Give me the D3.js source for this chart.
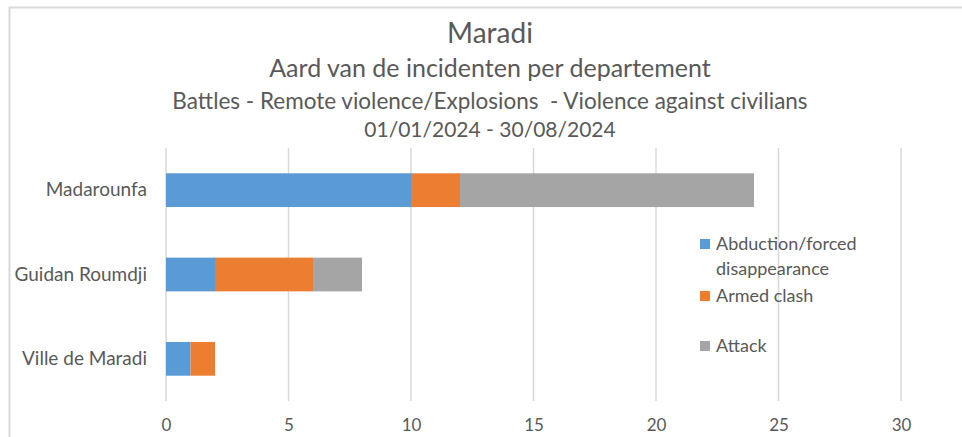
<!DOCTYPE html>
<html><head><meta charset="utf-8">
<script src="https://cdn.jsdelivr.net/npm/d3@7"></script>
<style>body{margin:0;background:#fff}svg{display:block}</style>
</head><body><svg id="c" width="962" height="437"></svg>
<script>
const categories = ["Madarounfa", "Guidan Roumdji", "Ville de Maradi"];
const seriesNames = ["Abduction/forced disappearance", "Armed clash", "Attack"];
const abduction = [10, 2, 1];
const armedClash = [2, 4, 1];
const attack = [12, 2, 0];
const xTicks = [0, 5, 10, 15, 20, 25, 30];
const titles = ["Maradi", "Aard van de incidenten per departement",
  "Battles - Remote violence/Explosions  - Violence against civilians", "01/01/2024 - 30/08/2024"];
const colors = ["#5b9bd5", "#ed7d31", "#a5a5a5"];

const font = "Lato, 'Open Sans', sans-serif";
const svg = d3.select("#c");
// chart border
svg.append("rect").attr("x", 9.5).attr("y", 7.5).attr("width", 1000).attr("height", 500)
  .attr("fill", "none").attr("stroke", "#d9d9d9").attr("stroke-width", 2);

const tSizes = [28, 25, 22.5, 21], tY = [43, 77, 109, 137];
titles.forEach((t, i) => svg.append("text").attr("x", 490).attr("y", tY[i])
  .attr("text-anchor", "middle").attr("font-family", font).attr("font-size", tSizes[i])
  .attr("fill", "#595959").style("white-space", "pre").text(t));

const x = d3.scaleLinear().domain([0, 30]).range([166, 901]);
const y = d3.scaleBand().domain(categories).range([148, 401]).paddingInner(0.6).paddingOuter(0.3);

const g = svg.append("g");
g.selectAll("line.grid").data(xTicks).join("line")
  .attr("x1", d => x(d)).attr("x2", d => x(d)).attr("y1", 148).attr("y2", 401)
  .attr("stroke", "#d9d9d9").attr("stroke-width", 1.5);

const rows = categories.map((c, i) => ({cat: c, a: abduction[i], b: armedClash[i], c2: attack[i]}));
const stack = d3.stack().keys(["a", "b", "c2"])(rows);
stack.forEach((s, si) => {
  g.selectAll(null).data(s).join("rect")
    .attr("x", d => x(d[0])).attr("width", d => x(d[1]) - x(d[0]))
    .attr("y", d => y(d.data.cat)).attr("height", y.bandwidth())
    .attr("fill", colors[si]);
});

// axes
const xa = svg.append("g").attr("transform", "translate(0,401)")
  .call(d3.axisBottom(x).tickValues(xTicks).tickSize(0).tickPadding(18));
xa.select(".domain").remove();
xa.selectAll("text").attr("font-family", font).attr("font-size", 17).attr("fill", "#595959");

const ya = svg.append("g").attr("transform", "translate(166,0)")
  .call(d3.axisLeft(y).tickSize(0).tickPadding(19));
ya.select(".domain").remove();
ya.selectAll("text").attr("font-family", font).attr("font-size", 19).attr("fill", "#595959");

// legend
const legItems = [
  {lines: ["Abduction/forced", "disappearance"], y: 244},
  {lines: ["Armed clash"], y: 296},
  {lines: ["Attack"], y: 346}
];
legItems.forEach((it, i) => {
  svg.append("rect").attr("x", 700).attr("y", it.y - 5).attr("width", 10).attr("height", 10).attr("fill", colors[i]);
  const t = svg.append("text").attr("x", 716).attr("y", it.y)
    .attr("font-family", font).attr("font-size", 18).attr("fill", "#595959");
  it.lines.forEach((l, j) => t.append("tspan").attr("x", 716).attr("dy", j === 0 ? "0.35em" : 25).text(l));
});
</script></body></html>
